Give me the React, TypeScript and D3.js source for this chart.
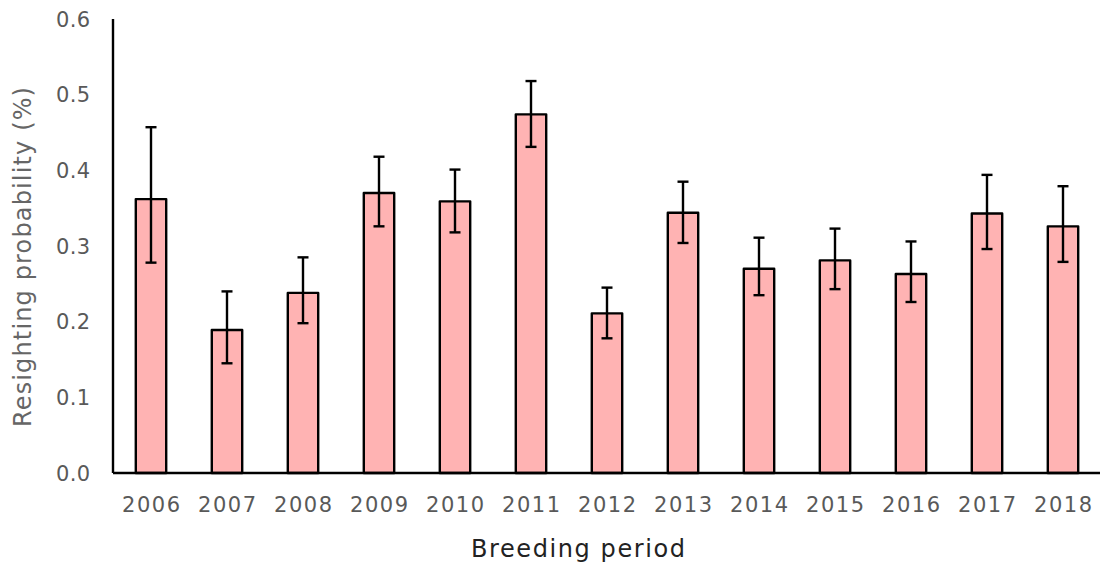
import React from "react";
import * as d3 from "d3";

const years = ["2006", "2007", "2008", "2009", "2010", "2011", "2012", "2013", "2014", "2015", "2016", "2017", "2018"];
const estimate = [0.362, 0.189, 0.238, 0.370, 0.359, 0.474, 0.211, 0.344, 0.270, 0.281, 0.263, 0.343, 0.326];
const upper = [0.457, 0.240, 0.285, 0.418, 0.401, 0.518, 0.245, 0.385, 0.311, 0.323, 0.306, 0.394, 0.379];
const lower = [0.278, 0.145, 0.198, 0.326, 0.318, 0.431, 0.178, 0.304, 0.235, 0.243, 0.226, 0.296, 0.279];
const yTicks = [0, 0.1, 0.2, 0.3, 0.4, 0.5, 0.6];

const W = 1100;
const H = 570;
const FONT = "'DejaVu Sans', sans-serif";

export default function App() {
  const x = d3.scaleBand<string>().domain(years).range([113, 1101]).paddingInner(0.6).paddingOuter(0.3);
  const y = d3.scaleLinear().domain([0, 0.6]).range([473, 19]);
  const cap = 5.5;

  return (
    <svg width={W} height={H} style={{ position: "absolute", left: 0, top: 0, background: "#fff" }}>
      {/* bars */}
      {years.map((yr, i) => (
        <rect
          key={yr}
          x={x(yr)!}
          y={y(estimate[i])}
          width={x.bandwidth()}
          height={y(0) - y(estimate[i])}
          fill="#FFB3B3"
          stroke="#000"
          strokeWidth={2.4}
          strokeLinejoin="round"
        />
      ))}
      {/* error bars */}
      {years.map((yr, i) => {
        const cx = x(yr)! + x.bandwidth() / 2;
        return (
          <g key={"e" + yr} stroke="#000" strokeWidth={2.4}>
            <line x1={cx} x2={cx} y1={y(upper[i])} y2={y(lower[i])} />
            <line x1={cx - cap} x2={cx + cap} y1={y(upper[i])} y2={y(upper[i])} />
            <line x1={cx - cap} x2={cx + cap} y1={y(lower[i])} y2={y(lower[i])} />
          </g>
        );
      })}
      {/* axes */}
      <line x1={113} x2={113} y1={y(0.6)} y2={y(0)} stroke="#000" strokeWidth={2.4} />
      <line x1={113} x2={1101} y1={y(0)} y2={y(0)} stroke="#000" strokeWidth={2.4} />
      {yTicks.map((t) => (
        <text
          key={t}
          x={90}
          y={y(t)}
          dy="0.36em"
          textAnchor="end"
          fontFamily={FONT}
          fontSize={21}
          textLength={34}
          lengthAdjust="spacing"
          fill="#595959"
        >
          {d3.format(".1f")(t)}
        </text>
      ))}
      {years.map((yr) => (
        <text
          key={"t" + yr}
          x={x(yr)! + x.bandwidth() / 2}
          y={512}
          textAnchor="middle"
          fontFamily={FONT}
          fontSize={21}
          textLength={58}
          lengthAdjust="spacing"
          fill="#595959"
        >
          {yr}
        </text>
      ))}
      <text
        x={578}
        y={557}
        textAnchor="middle"
        fontFamily={FONT}
        fontSize={24}
        textLength={214}
        lengthAdjust="spacing"
        fill="#222"
      >
        Breeding period
      </text>
      <text
        transform={`translate(31,257) rotate(-90)`}
        textAnchor="middle"
        fontFamily={FONT}
        fontSize={24}
        textLength={340}
        lengthAdjust="spacing"
        fill="#666"
      >
        Resighting probability (%)
      </text>
    </svg>
  );
}
